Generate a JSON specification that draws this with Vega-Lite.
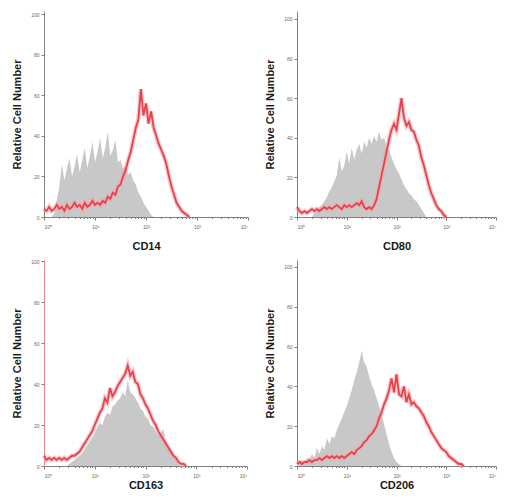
{
"$schema": "https://vega.github.io/schema/vega-lite/v6.json",
"padding": {"left": 11, "top": 11, "right": 2, "bottom": 2},
"config": {"view": {"stroke": null}, "font": "Liberation Sans",
 "axis": {"grid": false, "domainColor": "#808080", "tickColor": "#808080", "labelFont": "Liberation Sans", "labelFontSize": 5, "labelColor": "#666666", "titleFont": "Liberation Sans", "titleFontWeight": "bold", "titleFontSize": 11, "titleColor": "#1a1a1a"}},
"columns": 2,
"spacing": {"row": 8, "column": 15},
"data": {"values": [
{"m":"CD14","g":"p","x":0.00,"y":4},{"m":"CD14","g":"p","x":0.05,"y":3},{"m":"CD14","g":"p","x":0.10,"y":5},{"m":"CD14","g":"p","x":0.15,"y":3},{"m":"CD14","g":"p","x":0.20,"y":4},{"m":"CD14","g":"p","x":0.25,"y":6},{"m":"CD14","g":"p","x":0.30,"y":4},{"m":"CD14","g":"p","x":0.35,"y":5},{"m":"CD14","g":"p","x":0.40,"y":3},{"m":"CD14","g":"p","x":0.45,"y":6},
{"m":"CD14","g":"p","x":0.50,"y":4},{"m":"CD14","g":"p","x":0.55,"y":5},{"m":"CD14","g":"p","x":0.60,"y":7},{"m":"CD14","g":"p","x":0.65,"y":5},{"m":"CD14","g":"p","x":0.70,"y":6},{"m":"CD14","g":"p","x":0.75,"y":4},{"m":"CD14","g":"p","x":0.80,"y":7},{"m":"CD14","g":"p","x":0.85,"y":5},{"m":"CD14","g":"p","x":0.90,"y":6},{"m":"CD14","g":"p","x":0.95,"y":8},
{"m":"CD14","g":"p","x":1.00,"y":6},{"m":"CD14","g":"p","x":1.05,"y":7},{"m":"CD14","g":"p","x":1.10,"y":6},{"m":"CD14","g":"p","x":1.15,"y":8},{"m":"CD14","g":"p","x":1.20,"y":7},{"m":"CD14","g":"p","x":1.25,"y":10},{"m":"CD14","g":"p","x":1.30,"y":9},{"m":"CD14","g":"p","x":1.35,"y":12},{"m":"CD14","g":"p","x":1.40,"y":11},{"m":"CD14","g":"p","x":1.45,"y":15},
{"m":"CD14","g":"p","x":1.50,"y":16},{"m":"CD14","g":"p","x":1.55,"y":20},{"m":"CD14","g":"p","x":1.60,"y":23},{"m":"CD14","g":"p","x":1.65,"y":28},{"m":"CD14","g":"p","x":1.70,"y":32},{"m":"CD14","g":"p","x":1.75,"y":38},{"m":"CD14","g":"p","x":1.80,"y":44},{"m":"CD14","g":"p","x":1.85,"y":48},{"m":"CD14","g":"p","x":1.90,"y":63},{"m":"CD14","g":"p","x":1.95,"y":50},
{"m":"CD14","g":"p","x":2.00,"y":56},{"m":"CD14","g":"p","x":2.05,"y":46},{"m":"CD14","g":"p","x":2.10,"y":52},{"m":"CD14","g":"p","x":2.15,"y":44},{"m":"CD14","g":"p","x":2.20,"y":40},{"m":"CD14","g":"p","x":2.25,"y":36},{"m":"CD14","g":"p","x":2.30,"y":33},{"m":"CD14","g":"p","x":2.35,"y":30},{"m":"CD14","g":"p","x":2.40,"y":26},{"m":"CD14","g":"p","x":2.45,"y":20},
{"m":"CD14","g":"p","x":2.50,"y":15},{"m":"CD14","g":"p","x":2.55,"y":11},{"m":"CD14","g":"p","x":2.60,"y":7},{"m":"CD14","g":"p","x":2.65,"y":5},{"m":"CD14","g":"p","x":2.70,"y":3},{"m":"CD14","g":"p","x":2.75,"y":2},{"m":"CD14","g":"p","x":2.80,"y":1},{"m":"CD14","g":"p","x":2.85,"y":0},
{"m":"CD14","g":"i","x":0.00,"y":0},{"m":"CD14","g":"i","x":0.15,"y":0},{"m":"CD14","g":"i","x":0.20,"y":2},{"m":"CD14","g":"i","x":0.25,"y":8},{"m":"CD14","g":"i","x":0.30,"y":15},{"m":"CD14","g":"i","x":0.35,"y":26},{"m":"CD14","g":"i","x":0.40,"y":18},{"m":"CD14","g":"i","x":0.45,"y":24},
{"m":"CD14","g":"i","x":0.50,"y":29},{"m":"CD14","g":"i","x":0.55,"y":20},{"m":"CD14","g":"i","x":0.60,"y":25},{"m":"CD14","g":"i","x":0.65,"y":31},{"m":"CD14","g":"i","x":0.70,"y":22},{"m":"CD14","g":"i","x":0.75,"y":28},{"m":"CD14","g":"i","x":0.80,"y":34},{"m":"CD14","g":"i","x":0.85,"y":24},{"m":"CD14","g":"i","x":0.90,"y":30},{"m":"CD14","g":"i","x":0.95,"y":37},
{"m":"CD14","g":"i","x":1.00,"y":27},{"m":"CD14","g":"i","x":1.05,"y":32},{"m":"CD14","g":"i","x":1.10,"y":39},{"m":"CD14","g":"i","x":1.15,"y":29},{"m":"CD14","g":"i","x":1.20,"y":34},{"m":"CD14","g":"i","x":1.25,"y":42},{"m":"CD14","g":"i","x":1.30,"y":30},{"m":"CD14","g":"i","x":1.35,"y":33},{"m":"CD14","g":"i","x":1.40,"y":38},{"m":"CD14","g":"i","x":1.45,"y":27},
{"m":"CD14","g":"i","x":1.50,"y":28},{"m":"CD14","g":"i","x":1.55,"y":24},{"m":"CD14","g":"i","x":1.60,"y":25},{"m":"CD14","g":"i","x":1.65,"y":21},{"m":"CD14","g":"i","x":1.70,"y":22},{"m":"CD14","g":"i","x":1.75,"y":18},{"m":"CD14","g":"i","x":1.80,"y":16},{"m":"CD14","g":"i","x":1.85,"y":12},{"m":"CD14","g":"i","x":1.90,"y":10},{"m":"CD14","g":"i","x":1.95,"y":7},
{"m":"CD14","g":"i","x":2.00,"y":5},{"m":"CD14","g":"i","x":2.05,"y":3},{"m":"CD14","g":"i","x":2.10,"y":1},{"m":"CD14","g":"i","x":2.15,"y":0},

{"m":"CD80","g":"p","x":0.00,"y":5},{"m":"CD80","g":"p","x":0.05,"y":3},{"m":"CD80","g":"p","x":0.10,"y":2},{"m":"CD80","g":"p","x":0.15,"y":3},{"m":"CD80","g":"p","x":0.20,"y":2},{"m":"CD80","g":"p","x":0.25,"y":3},{"m":"CD80","g":"p","x":0.30,"y":4},{"m":"CD80","g":"p","x":0.35,"y":3},{"m":"CD80","g":"p","x":0.40,"y":4},{"m":"CD80","g":"p","x":0.45,"y":3},
{"m":"CD80","g":"p","x":0.50,"y":4},{"m":"CD80","g":"p","x":0.55,"y":5},{"m":"CD80","g":"p","x":0.60,"y":4},{"m":"CD80","g":"p","x":0.65,"y":5},{"m":"CD80","g":"p","x":0.70,"y":4},{"m":"CD80","g":"p","x":0.75,"y":5},{"m":"CD80","g":"p","x":0.80,"y":6},{"m":"CD80","g":"p","x":0.85,"y":5},{"m":"CD80","g":"p","x":0.90,"y":4},{"m":"CD80","g":"p","x":0.95,"y":6},
{"m":"CD80","g":"p","x":1.00,"y":5},{"m":"CD80","g":"p","x":1.05,"y":6},{"m":"CD80","g":"p","x":1.10,"y":5},{"m":"CD80","g":"p","x":1.15,"y":6},{"m":"CD80","g":"p","x":1.20,"y":7},{"m":"CD80","g":"p","x":1.25,"y":6},{"m":"CD80","g":"p","x":1.30,"y":8},{"m":"CD80","g":"p","x":1.35,"y":5},{"m":"CD80","g":"p","x":1.40,"y":4},{"m":"CD80","g":"p","x":1.45,"y":5},
{"m":"CD80","g":"p","x":1.50,"y":4},{"m":"CD80","g":"p","x":1.55,"y":6},{"m":"CD80","g":"p","x":1.60,"y":9},{"m":"CD80","g":"p","x":1.65,"y":15},{"m":"CD80","g":"p","x":1.70,"y":21},{"m":"CD80","g":"p","x":1.75,"y":27},{"m":"CD80","g":"p","x":1.80,"y":33},{"m":"CD80","g":"p","x":1.85,"y":39},{"m":"CD80","g":"p","x":1.90,"y":44},{"m":"CD80","g":"p","x":1.95,"y":47},
{"m":"CD80","g":"p","x":2.00,"y":44},{"m":"CD80","g":"p","x":2.05,"y":52},{"m":"CD80","g":"p","x":2.10,"y":60},{"m":"CD80","g":"p","x":2.15,"y":50},{"m":"CD80","g":"p","x":2.20,"y":46},{"m":"CD80","g":"p","x":2.25,"y":48},{"m":"CD80","g":"p","x":2.30,"y":44},{"m":"CD80","g":"p","x":2.35,"y":43},{"m":"CD80","g":"p","x":2.40,"y":39},{"m":"CD80","g":"p","x":2.45,"y":36},
{"m":"CD80","g":"p","x":2.50,"y":30},{"m":"CD80","g":"p","x":2.55,"y":26},{"m":"CD80","g":"p","x":2.60,"y":21},{"m":"CD80","g":"p","x":2.65,"y":16},{"m":"CD80","g":"p","x":2.70,"y":12},{"m":"CD80","g":"p","x":2.75,"y":9},{"m":"CD80","g":"p","x":2.80,"y":6},{"m":"CD80","g":"p","x":2.85,"y":4},{"m":"CD80","g":"p","x":2.90,"y":3},{"m":"CD80","g":"p","x":2.95,"y":1},{"m":"CD80","g":"p","x":3.00,"y":0},
{"m":"CD80","g":"i","x":0.00,"y":0},{"m":"CD80","g":"i","x":0.30,"y":0},{"m":"CD80","g":"i","x":0.35,"y":2},{"m":"CD80","g":"i","x":0.40,"y":3},{"m":"CD80","g":"i","x":0.45,"y":5},
{"m":"CD80","g":"i","x":0.50,"y":6},{"m":"CD80","g":"i","x":0.55,"y":8},{"m":"CD80","g":"i","x":0.60,"y":10},{"m":"CD80","g":"i","x":0.65,"y":13},{"m":"CD80","g":"i","x":0.70,"y":15},{"m":"CD80","g":"i","x":0.75,"y":18},{"m":"CD80","g":"i","x":0.80,"y":21},{"m":"CD80","g":"i","x":0.85,"y":30},{"m":"CD80","g":"i","x":0.90,"y":23},{"m":"CD80","g":"i","x":0.95,"y":26},
{"m":"CD80","g":"i","x":1.00,"y":33},{"m":"CD80","g":"i","x":1.05,"y":27},{"m":"CD80","g":"i","x":1.10,"y":35},{"m":"CD80","g":"i","x":1.15,"y":29},{"m":"CD80","g":"i","x":1.20,"y":34},{"m":"CD80","g":"i","x":1.25,"y":37},{"m":"CD80","g":"i","x":1.30,"y":32},{"m":"CD80","g":"i","x":1.35,"y":38},{"m":"CD80","g":"i","x":1.40,"y":35},{"m":"CD80","g":"i","x":1.45,"y":40},
{"m":"CD80","g":"i","x":1.50,"y":37},{"m":"CD80","g":"i","x":1.55,"y":41},{"m":"CD80","g":"i","x":1.60,"y":38},{"m":"CD80","g":"i","x":1.65,"y":43},{"m":"CD80","g":"i","x":1.70,"y":39},{"m":"CD80","g":"i","x":1.75,"y":40},{"m":"CD80","g":"i","x":1.80,"y":36},{"m":"CD80","g":"i","x":1.85,"y":34},{"m":"CD80","g":"i","x":1.90,"y":30},{"m":"CD80","g":"i","x":1.95,"y":27},
{"m":"CD80","g":"i","x":2.00,"y":24},{"m":"CD80","g":"i","x":2.05,"y":22},{"m":"CD80","g":"i","x":2.10,"y":19},{"m":"CD80","g":"i","x":2.15,"y":16},{"m":"CD80","g":"i","x":2.20,"y":14},{"m":"CD80","g":"i","x":2.25,"y":12},{"m":"CD80","g":"i","x":2.30,"y":11},{"m":"CD80","g":"i","x":2.35,"y":9},{"m":"CD80","g":"i","x":2.40,"y":8},{"m":"CD80","g":"i","x":2.45,"y":6},
{"m":"CD80","g":"i","x":2.50,"y":4},{"m":"CD80","g":"i","x":2.55,"y":2},{"m":"CD80","g":"i","x":2.60,"y":0},

{"m":"CD163","g":"p","x":0.00,"y":5},{"m":"CD163","g":"p","x":0.05,"y":3},{"m":"CD163","g":"p","x":0.10,"y":4},{"m":"CD163","g":"p","x":0.15,"y":3},{"m":"CD163","g":"p","x":0.20,"y":4},{"m":"CD163","g":"p","x":0.25,"y":3},{"m":"CD163","g":"p","x":0.30,"y":4},{"m":"CD163","g":"p","x":0.35,"y":3},{"m":"CD163","g":"p","x":0.40,"y":4},{"m":"CD163","g":"p","x":0.45,"y":3},
{"m":"CD163","g":"p","x":0.50,"y":4},{"m":"CD163","g":"p","x":0.55,"y":5},{"m":"CD163","g":"p","x":0.60,"y":5},{"m":"CD163","g":"p","x":0.65,"y":6},{"m":"CD163","g":"p","x":0.70,"y":7},{"m":"CD163","g":"p","x":0.75,"y":9},{"m":"CD163","g":"p","x":0.80,"y":11},{"m":"CD163","g":"p","x":0.85,"y":13},{"m":"CD163","g":"p","x":0.90,"y":15},{"m":"CD163","g":"p","x":0.95,"y":17},
{"m":"CD163","g":"p","x":1.00,"y":20},{"m":"CD163","g":"p","x":1.05,"y":23},{"m":"CD163","g":"p","x":1.10,"y":26},{"m":"CD163","g":"p","x":1.15,"y":28},{"m":"CD163","g":"p","x":1.20,"y":33},{"m":"CD163","g":"p","x":1.25,"y":31},{"m":"CD163","g":"p","x":1.30,"y":38},{"m":"CD163","g":"p","x":1.35,"y":34},{"m":"CD163","g":"p","x":1.40,"y":36},{"m":"CD163","g":"p","x":1.45,"y":39},
{"m":"CD163","g":"p","x":1.50,"y":41},{"m":"CD163","g":"p","x":1.55,"y":43},{"m":"CD163","g":"p","x":1.60,"y":45},{"m":"CD163","g":"p","x":1.65,"y":49},{"m":"CD163","g":"p","x":1.70,"y":44},{"m":"CD163","g":"p","x":1.75,"y":46},{"m":"CD163","g":"p","x":1.80,"y":41},{"m":"CD163","g":"p","x":1.85,"y":40},{"m":"CD163","g":"p","x":1.90,"y":35},{"m":"CD163","g":"p","x":1.95,"y":33},
{"m":"CD163","g":"p","x":2.00,"y":30},{"m":"CD163","g":"p","x":2.05,"y":28},{"m":"CD163","g":"p","x":2.10,"y":25},{"m":"CD163","g":"p","x":2.15,"y":22},{"m":"CD163","g":"p","x":2.20,"y":20},{"m":"CD163","g":"p","x":2.25,"y":17},{"m":"CD163","g":"p","x":2.30,"y":15},{"m":"CD163","g":"p","x":2.35,"y":13},{"m":"CD163","g":"p","x":2.40,"y":11},{"m":"CD163","g":"p","x":2.45,"y":9},
{"m":"CD163","g":"p","x":2.50,"y":7},{"m":"CD163","g":"p","x":2.55,"y":5},{"m":"CD163","g":"p","x":2.60,"y":4},{"m":"CD163","g":"p","x":2.65,"y":2},{"m":"CD163","g":"p","x":2.70,"y":1},{"m":"CD163","g":"p","x":2.75,"y":1},{"m":"CD163","g":"p","x":2.80,"y":0},
{"m":"CD163","g":"i","x":0.00,"y":0},{"m":"CD163","g":"i","x":0.45,"y":0},
{"m":"CD163","g":"i","x":0.50,"y":1},{"m":"CD163","g":"i","x":0.55,"y":2},{"m":"CD163","g":"i","x":0.60,"y":3},{"m":"CD163","g":"i","x":0.65,"y":4},{"m":"CD163","g":"i","x":0.70,"y":5},{"m":"CD163","g":"i","x":0.75,"y":6},{"m":"CD163","g":"i","x":0.80,"y":8},{"m":"CD163","g":"i","x":0.85,"y":10},{"m":"CD163","g":"i","x":0.90,"y":12},{"m":"CD163","g":"i","x":0.95,"y":14},
{"m":"CD163","g":"i","x":1.00,"y":16},{"m":"CD163","g":"i","x":1.05,"y":19},{"m":"CD163","g":"i","x":1.10,"y":21},{"m":"CD163","g":"i","x":1.15,"y":20},{"m":"CD163","g":"i","x":1.20,"y":24},{"m":"CD163","g":"i","x":1.25,"y":26},{"m":"CD163","g":"i","x":1.30,"y":25},{"m":"CD163","g":"i","x":1.35,"y":29},{"m":"CD163","g":"i","x":1.40,"y":30},{"m":"CD163","g":"i","x":1.45,"y":32},
{"m":"CD163","g":"i","x":1.50,"y":33},{"m":"CD163","g":"i","x":1.55,"y":36},{"m":"CD163","g":"i","x":1.60,"y":34},{"m":"CD163","g":"i","x":1.65,"y":42},{"m":"CD163","g":"i","x":1.70,"y":36},{"m":"CD163","g":"i","x":1.75,"y":35},{"m":"CD163","g":"i","x":1.80,"y":33},{"m":"CD163","g":"i","x":1.85,"y":31},{"m":"CD163","g":"i","x":1.90,"y":28},{"m":"CD163","g":"i","x":1.95,"y":27},
{"m":"CD163","g":"i","x":2.00,"y":24},{"m":"CD163","g":"i","x":2.05,"y":23},{"m":"CD163","g":"i","x":2.10,"y":20},{"m":"CD163","g":"i","x":2.15,"y":19},{"m":"CD163","g":"i","x":2.20,"y":17},{"m":"CD163","g":"i","x":2.25,"y":15},{"m":"CD163","g":"i","x":2.30,"y":16},{"m":"CD163","g":"i","x":2.35,"y":18},{"m":"CD163","g":"i","x":2.40,"y":12},{"m":"CD163","g":"i","x":2.45,"y":9},
{"m":"CD163","g":"i","x":2.50,"y":7},{"m":"CD163","g":"i","x":2.55,"y":5},{"m":"CD163","g":"i","x":2.60,"y":3},{"m":"CD163","g":"i","x":2.65,"y":1},{"m":"CD163","g":"i","x":2.70,"y":0},

{"m":"CD206","g":"p","x":0.00,"y":1},{"m":"CD206","g":"p","x":0.05,"y":2},{"m":"CD206","g":"p","x":0.10,"y":1},{"m":"CD206","g":"p","x":0.15,"y":2},{"m":"CD206","g":"p","x":0.20,"y":2},{"m":"CD206","g":"p","x":0.25,"y":3},{"m":"CD206","g":"p","x":0.30,"y":2},{"m":"CD206","g":"p","x":0.35,"y":3},{"m":"CD206","g":"p","x":0.40,"y":3},{"m":"CD206","g":"p","x":0.45,"y":4},
{"m":"CD206","g":"p","x":0.50,"y":3},{"m":"CD206","g":"p","x":0.55,"y":4},{"m":"CD206","g":"p","x":0.60,"y":5},{"m":"CD206","g":"p","x":0.65,"y":4},{"m":"CD206","g":"p","x":0.70,"y":5},{"m":"CD206","g":"p","x":0.75,"y":4},{"m":"CD206","g":"p","x":0.80,"y":5},{"m":"CD206","g":"p","x":0.85,"y":4},{"m":"CD206","g":"p","x":0.90,"y":5},{"m":"CD206","g":"p","x":0.95,"y":4},
{"m":"CD206","g":"p","x":1.00,"y":5},{"m":"CD206","g":"p","x":1.05,"y":6},{"m":"CD206","g":"p","x":1.10,"y":7},{"m":"CD206","g":"p","x":1.15,"y":6},{"m":"CD206","g":"p","x":1.20,"y":8},{"m":"CD206","g":"p","x":1.25,"y":9},{"m":"CD206","g":"p","x":1.30,"y":10},{"m":"CD206","g":"p","x":1.35,"y":12},{"m":"CD206","g":"p","x":1.40,"y":13},{"m":"CD206","g":"p","x":1.45,"y":15},
{"m":"CD206","g":"p","x":1.50,"y":16},{"m":"CD206","g":"p","x":1.55,"y":18},{"m":"CD206","g":"p","x":1.60,"y":20},{"m":"CD206","g":"p","x":1.65,"y":24},{"m":"CD206","g":"p","x":1.70,"y":27},{"m":"CD206","g":"p","x":1.75,"y":31},{"m":"CD206","g":"p","x":1.80,"y":34},{"m":"CD206","g":"p","x":1.85,"y":38},{"m":"CD206","g":"p","x":1.90,"y":44},{"m":"CD206","g":"p","x":1.95,"y":37},
{"m":"CD206","g":"p","x":2.00,"y":46},{"m":"CD206","g":"p","x":2.05,"y":36},{"m":"CD206","g":"p","x":2.10,"y":35},{"m":"CD206","g":"p","x":2.15,"y":40},{"m":"CD206","g":"p","x":2.20,"y":32},{"m":"CD206","g":"p","x":2.25,"y":36},{"m":"CD206","g":"p","x":2.30,"y":31},{"m":"CD206","g":"p","x":2.35,"y":32},{"m":"CD206","g":"p","x":2.40,"y":30},{"m":"CD206","g":"p","x":2.45,"y":29},
{"m":"CD206","g":"p","x":2.50,"y":27},{"m":"CD206","g":"p","x":2.55,"y":25},{"m":"CD206","g":"p","x":2.60,"y":22},{"m":"CD206","g":"p","x":2.65,"y":20},{"m":"CD206","g":"p","x":2.70,"y":17},{"m":"CD206","g":"p","x":2.75,"y":15},{"m":"CD206","g":"p","x":2.80,"y":13},{"m":"CD206","g":"p","x":2.85,"y":11},{"m":"CD206","g":"p","x":2.90,"y":9},{"m":"CD206","g":"p","x":2.95,"y":8},
{"m":"CD206","g":"p","x":3.00,"y":7},{"m":"CD206","g":"p","x":3.05,"y":5},{"m":"CD206","g":"p","x":3.10,"y":4},{"m":"CD206","g":"p","x":3.15,"y":3},{"m":"CD206","g":"p","x":3.20,"y":2},{"m":"CD206","g":"p","x":3.25,"y":1},{"m":"CD206","g":"p","x":3.30,"y":1},{"m":"CD206","g":"p","x":3.35,"y":0},
{"m":"CD206","g":"i","x":0.00,"y":2},{"m":"CD206","g":"i","x":0.05,"y":2},{"m":"CD206","g":"i","x":0.10,"y":3},{"m":"CD206","g":"i","x":0.15,"y":2},{"m":"CD206","g":"i","x":0.20,"y":4},{"m":"CD206","g":"i","x":0.25,"y":3},{"m":"CD206","g":"i","x":0.30,"y":6},{"m":"CD206","g":"i","x":0.35,"y":4},{"m":"CD206","g":"i","x":0.40,"y":9},{"m":"CD206","g":"i","x":0.45,"y":6},
{"m":"CD206","g":"i","x":0.50,"y":10},{"m":"CD206","g":"i","x":0.55,"y":8},{"m":"CD206","g":"i","x":0.60,"y":14},{"m":"CD206","g":"i","x":0.65,"y":11},{"m":"CD206","g":"i","x":0.70,"y":15},{"m":"CD206","g":"i","x":0.75,"y":14},{"m":"CD206","g":"i","x":0.80,"y":18},{"m":"CD206","g":"i","x":0.85,"y":21},{"m":"CD206","g":"i","x":0.90,"y":24},{"m":"CD206","g":"i","x":0.95,"y":27},
{"m":"CD206","g":"i","x":1.00,"y":30},{"m":"CD206","g":"i","x":1.05,"y":34},{"m":"CD206","g":"i","x":1.10,"y":38},{"m":"CD206","g":"i","x":1.15,"y":43},{"m":"CD206","g":"i","x":1.20,"y":47},{"m":"CD206","g":"i","x":1.25,"y":52},{"m":"CD206","g":"i","x":1.30,"y":58},{"m":"CD206","g":"i","x":1.35,"y":52},{"m":"CD206","g":"i","x":1.40,"y":50},{"m":"CD206","g":"i","x":1.45,"y":45},
{"m":"CD206","g":"i","x":1.50,"y":41},{"m":"CD206","g":"i","x":1.55,"y":38},{"m":"CD206","g":"i","x":1.60,"y":34},{"m":"CD206","g":"i","x":1.65,"y":30},{"m":"CD206","g":"i","x":1.70,"y":26},{"m":"CD206","g":"i","x":1.75,"y":21},{"m":"CD206","g":"i","x":1.80,"y":16},{"m":"CD206","g":"i","x":1.85,"y":11},{"m":"CD206","g":"i","x":1.90,"y":7},{"m":"CD206","g":"i","x":1.95,"y":4},
{"m":"CD206","g":"i","x":2.00,"y":2},{"m":"CD206","g":"i","x":2.05,"y":1},{"m":"CD206","g":"i","x":2.10,"y":0}
]},
"concat": [
{"width": 204, "height": 206, "transform": [{"filter": "datum.m == 'CD14'"}],
 "encoding": {
  "x": {"field": "x", "type": "quantitative", "scale": {"domain": [0, 4], "nice": false}, "axis": {"title": "CD14", "values": [0,0.301,0.477,0.602,0.699,0.778,0.845,0.903,0.954,1,1.301,1.477,1.602,1.699,1.778,1.845,1.903,1.954,2,2.301,2.477,2.602,2.699,2.778,2.845,2.903,2.954,3,3.301,3.477,3.602,3.699,3.778,3.845,3.903,3.954,4], "labelExpr": "datum.value % 1 == 0 ? ['10⁰','10¹','10²','10³','10⁴'][datum.value] : ''", "tickSize": {"condition": {"test": "datum.value % 1 == 0", "value": 3}, "value": 1.5}, "labelPadding": 4, "titlePadding": 11}},
  "y": {"field": "y", "type": "quantitative", "scale": {"domain": [0, 101.5], "nice": false}, "axis": {"title": "Relative Cell Number", "values": [0,20,40,60,80,100], "tickSize": 3, "labelPadding": 2, "titlePadding": 8}}},
 "layer": [
  {"transform": [{"filter": "datum.g == 'i'"}], "mark": {"type": "area", "color": "#c8c8c8"}},
  {"transform": [{"filter": "datum.g == 'p'"}], "mark": {"type": "line", "color": "#f3a3a6", "strokeWidth": 4.5, "opacity": 0.6}},
  {"transform": [{"filter": "datum.g == 'p'"}], "mark": {"type": "line", "color": "#e5424d", "strokeWidth": 1.8}}
 ]},
{"width": 199, "height": 206, "transform": [{"filter": "datum.m == 'CD80'"}],
 "encoding": {
  "x": {"field": "x", "type": "quantitative", "scale": {"domain": [0, 4], "nice": false}, "axis": {"title": "CD80", "values": [0,0.301,0.477,0.602,0.699,0.778,0.845,0.903,0.954,1,1.301,1.477,1.602,1.699,1.778,1.845,1.903,1.954,2,2.301,2.477,2.602,2.699,2.778,2.845,2.903,2.954,3,3.301,3.477,3.602,3.699,3.778,3.845,3.903,3.954,4], "labelExpr": "datum.value % 1 == 0 ? ['10⁰','10¹','10²','10³','10⁴'][datum.value] : ''", "tickSize": {"condition": {"test": "datum.value % 1 == 0", "value": 3}, "value": 1.5}, "labelPadding": 4, "titlePadding": 11}},
  "y": {"field": "y", "type": "quantitative", "scale": {"domain": [0, 104], "nice": false}, "axis": {"title": "Relative Cell Number", "values": [0,20,40,60,80,100], "tickSize": 3, "labelPadding": 2, "titlePadding": 8}}},
 "layer": [
  {"transform": [{"filter": "datum.g == 'i'"}], "mark": {"type": "area", "color": "#c8c8c8"}},
  {"transform": [{"filter": "datum.g == 'p'"}], "mark": {"type": "line", "color": "#f3a3a6", "strokeWidth": 4.5, "opacity": 0.6}},
  {"transform": [{"filter": "datum.g == 'p'"}], "mark": {"type": "line", "color": "#e5424d", "strokeWidth": 1.8}}
 ]},
{"width": 203, "height": 206, "transform": [{"filter": "datum.m == 'CD163'"}],
 "encoding": {
  "x": {"field": "x", "type": "quantitative", "scale": {"domain": [0, 4], "nice": false}, "axis": {"title": "CD163", "values": [0,0.301,0.477,0.602,0.699,0.778,0.845,0.903,0.954,1,1.301,1.477,1.602,1.699,1.778,1.845,1.903,1.954,2,2.301,2.477,2.602,2.699,2.778,2.845,2.903,2.954,3,3.301,3.477,3.602,3.699,3.778,3.845,3.903,3.954,4], "labelExpr": "datum.value % 1 == 0 ? ['10⁰','10¹','10²','10³','10⁴'][datum.value] : ''", "tickSize": {"condition": {"test": "datum.value % 1 == 0", "value": 3}, "value": 1.5}, "labelPadding": 4, "titlePadding": 1}},
  "y": {"field": "y", "type": "quantitative", "scale": {"domain": [0, 100.5], "nice": false}, "axis": {"title": "Relative Cell Number", "values": [0,20,40,60,80,100], "tickSize": 3, "labelPadding": 2, "titlePadding": 8, "domainColor": "#e9868b"}}},
 "layer": [
  {"transform": [{"filter": "datum.g == 'i'"}], "mark": {"type": "area", "color": "#c8c8c8"}},
  {"transform": [{"filter": "datum.g == 'p'"}], "mark": {"type": "line", "color": "#f3a3a6", "strokeWidth": 4.5, "opacity": 0.6}},
  {"transform": [{"filter": "datum.g == 'p'"}], "mark": {"type": "line", "color": "#e5424d", "strokeWidth": 1.8}}
 ]},
{"width": 199, "height": 206, "transform": [{"filter": "datum.m == 'CD206'"}],
 "encoding": {
  "x": {"field": "x", "type": "quantitative", "scale": {"domain": [0, 4], "nice": false}, "axis": {"title": "CD206", "values": [0,0.301,0.477,0.602,0.699,0.778,0.845,0.903,0.954,1,1.301,1.477,1.602,1.699,1.778,1.845,1.903,1.954,2,2.301,2.477,2.602,2.699,2.778,2.845,2.903,2.954,3,3.301,3.477,3.602,3.699,3.778,3.845,3.903,3.954,4], "labelExpr": "datum.value % 1 == 0 ? ['10⁰','10¹','10²','10³','10⁴'][datum.value] : ''", "tickSize": {"condition": {"test": "datum.value % 1 == 0", "value": 3}, "value": 1.5}, "labelPadding": 4, "titlePadding": 1}},
  "y": {"field": "y", "type": "quantitative", "scale": {"domain": [0, 103.5], "nice": false}, "axis": {"title": "Relative Cell Number", "values": [0,20,40,60,80,100], "tickSize": 3, "labelPadding": 2, "titlePadding": 8}}},
 "layer": [
  {"transform": [{"filter": "datum.g == 'i'"}], "mark": {"type": "area", "color": "#c8c8c8"}},
  {"transform": [{"filter": "datum.g == 'p'"}], "mark": {"type": "line", "color": "#f3a3a6", "strokeWidth": 4.5, "opacity": 0.6}},
  {"transform": [{"filter": "datum.g == 'p'"}], "mark": {"type": "line", "color": "#e5424d", "strokeWidth": 1.8}}
 ]}
]
}
